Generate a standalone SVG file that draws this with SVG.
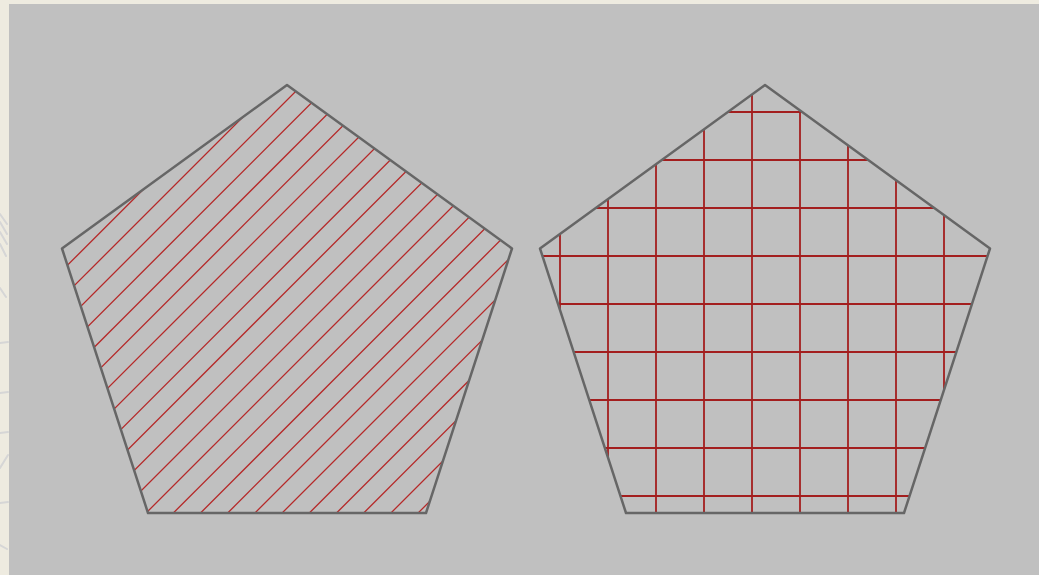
<svg xmlns="http://www.w3.org/2000/svg" width="1039" height="575" viewBox="0 0 1039 575">
  <style>
    .outline { fill: none; stroke: #666666; stroke-width: 2.5; stroke-linejoin: round; }
    .hatch line { stroke: #b52828; stroke-width: 1.3; }
    .grid line { stroke: #a31e1e; stroke-width: 1.8; }
    .deco line { stroke: #d6d6d6; stroke-width: 2; stroke-linecap: round; }
  </style>
  <defs>
    <clipPath id="clipLeft">
      <polygon points="287,85 512,248.5 426,513 148,513 62,248.5"/>
    </clipPath>
    <clipPath id="clipRight">
      <polygon points="765,85 990,248.5 904,513 626,513 540,248.5"/>
    </clipPath>
  </defs>
  <rect x="0" y="0" width="1039" height="575" fill="#eeebe0"/>
  <g class="deco">
    <line x1="0" y1="214" x2="7" y2="224"/>
    <line x1="0" y1="222" x2="7" y2="234"/>
    <line x1="0" y1="232" x2="7" y2="244"/>
    <line x1="0" y1="244" x2="6" y2="256"/>
    <line x1="0" y1="288" x2="6" y2="297"/>
    <line x1="0" y1="343" x2="8" y2="342"/>
    <line x1="0" y1="393" x2="8" y2="392"/>
    <line x1="0" y1="433" x2="8" y2="432"/>
    <line x1="0" y1="468" x2="8" y2="455"/>
    <line x1="0" y1="503" x2="8" y2="502"/>
    <line x1="0" y1="545" x2="7" y2="549"/>
  </g>
  <rect x="9" y="4" width="1030" height="571" fill="#c0c0c0"/>
  <g id="pentagon-hatched">
    <g class="hatch" clip-path="url(#clipLeft)">
      <line x1="-197.3" y1="530" x2="262.7" y2="70"/>
      <line x1="-170.1" y1="530" x2="289.9" y2="70"/>
      <line x1="-142.9" y1="530" x2="317.1" y2="70"/>
      <line x1="-115.7" y1="530" x2="344.3" y2="70"/>
      <line x1="-88.5" y1="530" x2="371.5" y2="70"/>
      <line x1="-61.3" y1="530" x2="398.7" y2="70"/>
      <line x1="-34.1" y1="530" x2="425.9" y2="70"/>
      <line x1="-6.9" y1="530" x2="453.1" y2="70"/>
      <line x1="20.3" y1="530" x2="480.3" y2="70"/>
      <line x1="47.5" y1="530" x2="507.5" y2="70"/>
      <line x1="74.7" y1="530" x2="534.7" y2="70"/>
      <line x1="101.9" y1="530" x2="561.9" y2="70"/>
      <line x1="129.1" y1="530" x2="589.1" y2="70"/>
      <line x1="156.3" y1="530" x2="616.3" y2="70"/>
      <line x1="183.5" y1="530" x2="643.5" y2="70"/>
      <line x1="210.7" y1="530" x2="670.7" y2="70"/>
      <line x1="237.9" y1="530" x2="697.9" y2="70"/>
      <line x1="265.1" y1="530" x2="725.1" y2="70"/>
      <line x1="292.3" y1="530" x2="752.3" y2="70"/>
      <line x1="319.5" y1="530" x2="779.5" y2="70"/>
      <line x1="346.7" y1="530" x2="806.7" y2="70"/>
      <line x1="373.9" y1="530" x2="833.9" y2="70"/>
      <line x1="401.1" y1="530" x2="861.1" y2="70"/>
    </g>
    <polygon class="outline" points="287,85 512,248.5 426,513 148,513 62,248.5"/>
  </g>
  <g id="pentagon-grid">
    <g class="grid" clip-path="url(#clipRight)">
      <line x1="560" y1="70" x2="560" y2="530"/>
      <line x1="608" y1="70" x2="608" y2="530"/>
      <line x1="656" y1="70" x2="656" y2="530"/>
      <line x1="704" y1="70" x2="704" y2="530"/>
      <line x1="752" y1="70" x2="752" y2="530"/>
      <line x1="800" y1="70" x2="800" y2="530"/>
      <line x1="848" y1="70" x2="848" y2="530"/>
      <line x1="896" y1="70" x2="896" y2="530"/>
      <line x1="944" y1="70" x2="944" y2="530"/>
      <line x1="530" y1="112" x2="1000" y2="112"/>
      <line x1="530" y1="160" x2="1000" y2="160"/>
      <line x1="530" y1="208" x2="1000" y2="208"/>
      <line x1="530" y1="256" x2="1000" y2="256"/>
      <line x1="530" y1="304" x2="1000" y2="304"/>
      <line x1="530" y1="352" x2="1000" y2="352"/>
      <line x1="530" y1="400" x2="1000" y2="400"/>
      <line x1="530" y1="448" x2="1000" y2="448"/>
      <line x1="530" y1="496" x2="1000" y2="496"/>
    </g>
    <polygon class="outline" points="765,85 990,248.5 904,513 626,513 540,248.5"/>
  </g>
</svg>
